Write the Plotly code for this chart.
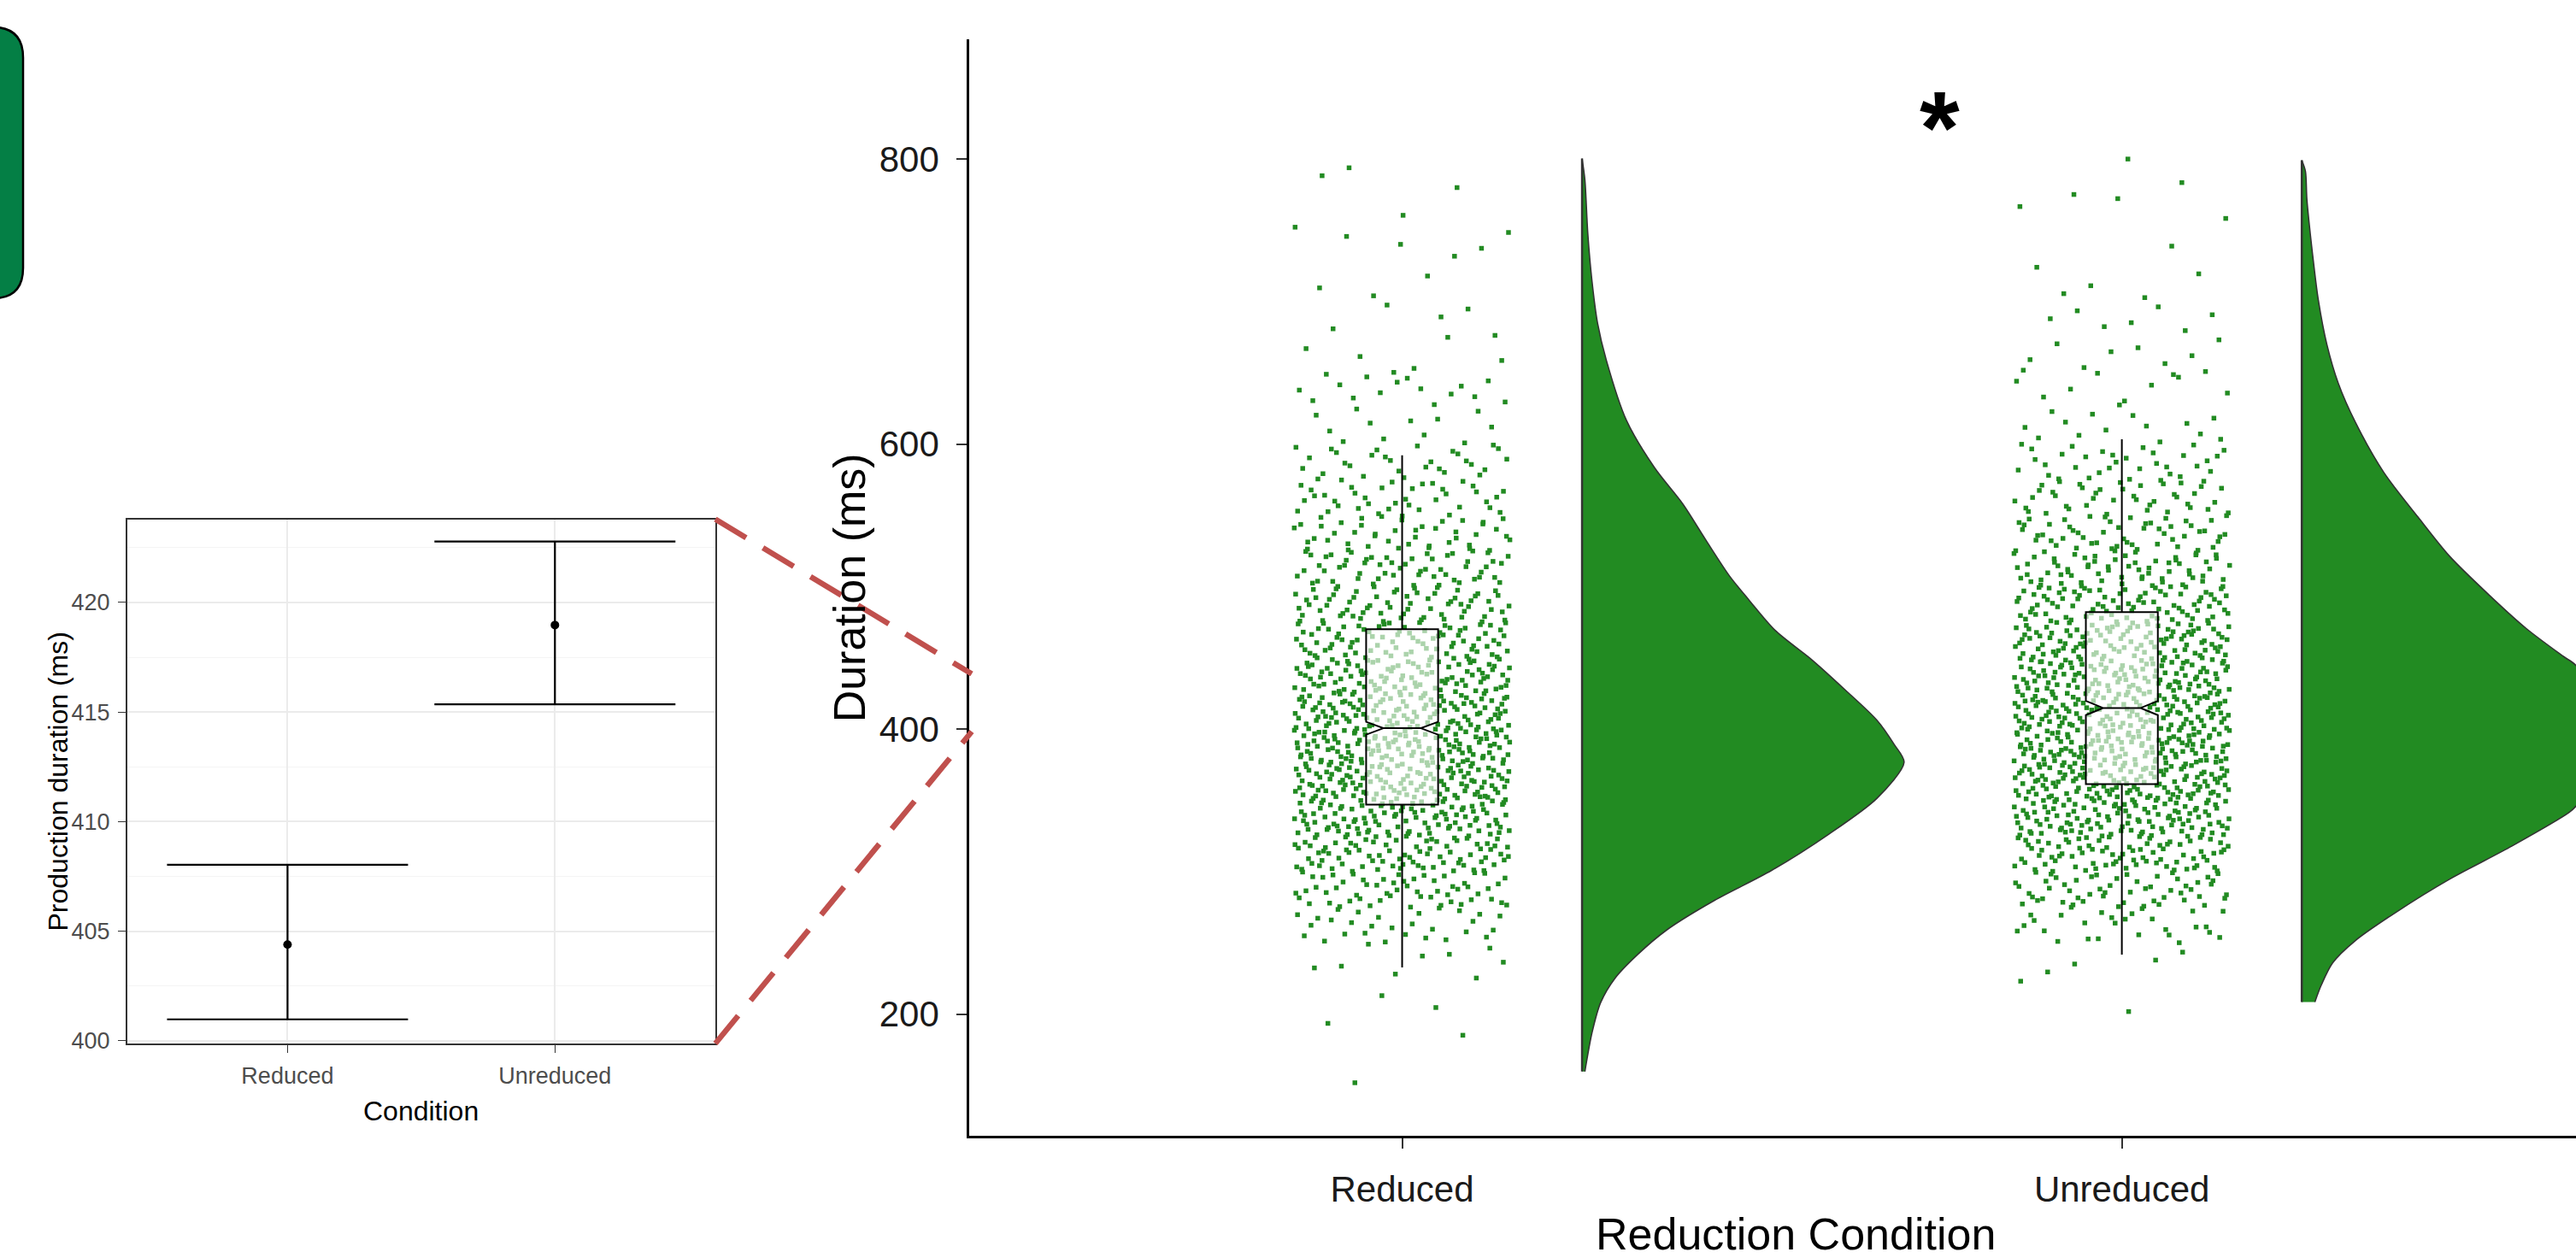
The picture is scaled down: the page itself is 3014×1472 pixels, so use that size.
import plotly.graph_objects as go

W, H = 3014, 1472
FONT = "Liberation Sans, Arial, sans-serif"
GREEN = "#228B22"

# ---------------- inset (means with error bars) ----------------
cond_labels = ["Reduced", "Unreduced"]
cond_pos = [1, 2]
cond_mean = [404.39, 418.97]
cond_upper = [408.03, 422.78]
cond_lower = [400.98, 415.35]

# ---------------- main: notched box statistics ----------------
box_q1 = [347.0, 361.4]
box_median = [400.6, 414.8]
box_q3 = [470.0, 482.0]
box_lowerfence = [232.8, 241.7]
box_upperfence = [592.1, 603.3]
box_notchspan = [4.5, 5.0]

# ---------------- main: raw points, read as counts per 25 ms bin ----------------
bin_width = 25
bin_lows = [150, 175, 200, 225, 250, 275, 300, 325, 350, 375, 400, 425, 450,
            475, 500, 525, 550, 575, 600, 625, 650, 675, 700, 725, 750, 775]
reduced_counts = [1, 2, 2, 9, 29, 58, 83, 105, 123, 128, 120, 103, 83,
                  68, 58, 46, 39, 30, 12, 16, 6, 5, 3, 5, 2, 3]
unreduced_counts = [0, 0, 2, 4, 28, 55, 83, 110, 128, 133, 130, 121, 106,
                    85, 68, 54, 43, 33, 14, 10, 10, 7, 5, 1, 3, 3]

# ---------------- main: half-violin profiles (value, half width in category units) ----------------
reduced_violin_y = [800.2, 785.4, 747.5, 713.8, 684.3, 659.0, 616.9, 583.2, 557.9, 532.6,
                    507.3, 490.5, 469.4, 448.3, 427.2, 406.2, 389.3, 376.7, 351.4, 326.1,
                    300.8, 279.8, 258.7, 241.8, 225.0, 208.1, 187.1, 159.7]
reduced_violin_w = [0.0, 0.0039, 0.0080, 0.0139, 0.0217, 0.0336, 0.0614, 0.1009, 0.1400, 0.1720,
                    0.2050, 0.2320, 0.2680, 0.3200, 0.3662, 0.4097, 0.4335, 0.4474, 0.4097, 0.3424,
                    0.2633, 0.1841, 0.1167, 0.0772, 0.0455, 0.0258, 0.0139, 0.0039]
unreduced_violin_y = [799.0, 791.2, 771.6, 732.5, 701.2, 669.9, 642.6, 615.2, 580.0, 548.7,
                      521.4, 494.0, 470.5, 451.0, 445.1, 420.0, 395.0, 370.0, 345.4, 341.5,
                      318.0, 294.6, 271.1, 251.6, 235.9, 220.3, 208.5]
unreduced_violin_w = [0.0, 0.0051, 0.0071, 0.0151, 0.0229, 0.0348, 0.0507, 0.0745, 0.1140, 0.1615,
                      0.2051, 0.2604, 0.3120, 0.3634, 0.3800, 0.4160, 0.4280, 0.4160, 0.3800, 0.3714,
                      0.2922, 0.2051, 0.1298, 0.0745, 0.0428, 0.0270, 0.0182]

y_ticks_main = [200, 400, 600, 800]
y_ticks_inset = [400, 405, 410, 415, 420]

jitter_half = 0.15
violin_offset = 0.25


def halton(i, b):
    f, r = 1.0, 0.0
    while i > 0:
        f /= b
        r += f * (i % b)
        i //= b
    return r


def cloud(center, counts, start):
    """Spread each bin's points over the bin (quasi-uniform, deterministic layout)."""
    xs, ys = [], []
    g = start
    for lo, c in zip(bin_lows, counts):
        for _ in range(c):
            g += 1
            u = halton(g, 2)
            v = halton(g, 3)
            xs.append(center + (2 * u - 1) * jitter_half)
            ys.append(lo + v * bin_width)
    return xs, ys


fig = go.Figure()

# ---- inset ----
fig.add_trace(go.Scatter(
    x=cond_pos, y=cond_mean, mode="markers",
    marker=dict(color="black", size=10),
    error_y=dict(type="data", symmetric=False,
                 array=[u - m for u, m in zip(cond_upper, cond_mean)],
                 arrayminus=[m - l for m, l in zip(cond_mean, cond_lower)],
                 color="black", thickness=2.2, width=141),
    xaxis="x", yaxis="y", hoverinfo="skip"))

# ---- main: points ----
for pos, counts, start in [(1, reduced_counts, 17), (2, unreduced_counts, 4111)]:
    xs, ys = cloud(pos, counts, start)
    fig.add_trace(go.Scatter(
        x=xs, y=ys, mode="markers",
        marker=dict(color=GREEN, size=5.5, symbol="square", line=dict(width=0)),
        xaxis="x2", yaxis="y2", hoverinfo="skip"))

# ---- main: half violins (straight baseline + smoothed density edge filled to it) ----
for pos, vy, vw in [(1, reduced_violin_y, reduced_violin_w), (2, unreduced_violin_y, unreduced_violin_w)]:
    base = pos + violin_offset
    fig.add_trace(go.Scatter(
        x=[base, base], y=[vy[0], vy[-1]], mode="lines",
        line=dict(color="#333333", width=2.5),
        xaxis="x2", yaxis="y2", hoverinfo="skip"))
    fig.add_trace(go.Scatter(
        x=[base + w for w in vw], y=vy, mode="lines", fill="tonextx", fillcolor=GREEN,
        line=dict(color="#333333", width=1.6, shape="spline", smoothing=0.8),
        xaxis="x2", yaxis="y2", hoverinfo="skip"))

# ---- main: notched boxes (on overlaid axes so they sit above the points) ----
fig.add_trace(go.Box(
    x=cond_pos, q1=box_q1, median=box_median, q3=box_q3,
    lowerfence=box_lowerfence, upperfence=box_upperfence,
    notchspan=box_notchspan, notched=True, notchwidth=0.24,
    width=0.1, whiskerwidth=0, boxpoints=False,
    fillcolor="rgba(255,255,255,0.62)", line=dict(color="black", width=2),
    xaxis="x3", yaxis="y3", hoverinfo="skip"))

main_xrange = [0.3985, 2.631]
main_yrange = [114.6, 883.9]

axis_font_main = dict(family=FONT, size=42, color="#1a1a1a")
axis_font_inset = dict(family=FONT, size=27, color="#4D4D4D")

fig.update_layout(
    width=W, height=H, margin=dict(l=0, r=0, t=0, b=0),
    paper_bgcolor="white", plot_bgcolor="white", showlegend=False,
    font=dict(family=FONT),
    xaxis=dict(domain=[148.7 / W, 837 / W], range=[0.4, 2.6], anchor="y",
               tickvals=cond_pos, ticktext=cond_labels, tickfont=axis_font_inset,
               showgrid=True, gridcolor="#EBEBEB", gridwidth=1.5, zeroline=False,
               showline=True, mirror=True, linecolor="#333333", linewidth=1.5,
               ticks="outside", ticklen=9, tickwidth=1.3, tickcolor="#333333",
               ticklabelstandoff=4),
    yaxis=dict(domain=[1 - 1231 / H, 1 - 612.5 / H], range=[399.88, 423.8], anchor="x",
               tickvals=y_ticks_inset, tickfont=axis_font_inset,
               showgrid=True, gridcolor="#EBEBEB", gridwidth=1.5, zeroline=False,
               minor=dict(tick0=400, dtick=2.5, showgrid=True, gridcolor="#F4F4F4", gridwidth=1),
               showline=True, mirror=True, linecolor="#333333", linewidth=1.5,
               ticks="outside", ticklen=9, tickwidth=1.3, tickcolor="#333333",
               ticklabelstandoff=4),
    xaxis2=dict(domain=[1134 / W, 1.0], range=main_xrange, anchor="y2",
                tickvals=cond_pos, ticktext=cond_labels, tickfont=axis_font_main,
                showgrid=False, zeroline=False, showline=True, linecolor="black", linewidth=2.5,
                ticks="outside", ticklen=12, tickwidth=2, tickcolor="#333333",
                ticklabelstandoff=12),
    yaxis2=dict(domain=[1 - 1340 / H, 1 - 46.4 / H], range=main_yrange, anchor="x2",
                tickvals=y_ticks_main, tickfont=axis_font_main,
                showgrid=False, zeroline=False, showline=True, linecolor="black", linewidth=2.5,
                ticks="outside", ticklen=12, tickwidth=2, tickcolor="#333333",
                ticklabelstandoff=12),
    xaxis3=dict(overlaying="x2", range=main_xrange, anchor="y3", visible=False),
    yaxis3=dict(overlaying="y2", range=main_yrange, anchor="x3", visible=False),
)


def px(x):
    return x / W


def py(y):
    return 1 - y / H


# decorative: green rounded tab at top-left (mostly off the page)
r, xl, xr, yt, yb = 36, -40, 27, 32, 352
path = (f"M {px(xl)},{py(yt)} L {px(xr - r)},{py(yt)} Q {px(xr)},{py(yt)} {px(xr)},{py(yt + r)} "
        f"L {px(xr)},{py(yb - r)} Q {px(xr)},{py(yb)} {px(xr - r)},{py(yb)} L {px(xl)},{py(yb)} Z")
shapes = [
    dict(type="path", xref="paper", yref="paper", path=path,
         fillcolor="#047F45", line=dict(color="black", width=2.5), layer="above"),
    dict(type="line", xref="paper", yref="paper", x0=px(837), y0=py(612.5), x1=px(1137), y1=py(795),
         line=dict(color="#C0504D", width=6.5, dash="42px,23px"), layer="above"),
    dict(type="line", xref="paper", yref="paper", x0=px(837), y0=py(1231), x1=px(1137), y1=py(863),
         line=dict(color="#C0504D", width=6.5, dash="42px,23px"), layer="above"),
]

annotations = [
    dict(text="Duration (ms)", x=px(994), y=py(693), xref="paper", yref="paper", showarrow=False,
         textangle=-90, xanchor="center", yanchor="middle", font=dict(family=FONT, size=52, color="black")),
    dict(text="Reduction Condition", x=px(2101), y=py(1456), xref="paper", yref="paper", showarrow=False,
         xanchor="center", yanchor="middle", font=dict(family=FONT, size=52, color="black")),
    dict(text="<b>*</b>", x=px(2269), y=py(150), xref="paper", yref="paper", showarrow=False,
         xanchor="center", yanchor="middle", font=dict(family=FONT, size=120, color="black")),
    dict(text="Production duration (ms)", x=px(68), y=py(922), xref="paper", yref="paper", showarrow=False,
         textangle=-90, xanchor="center", yanchor="middle", font=dict(family=FONT, size=32, color="black")),
    dict(text="Condition", x=px(492), y=py(1311), xref="paper", yref="paper", showarrow=False,
         xanchor="center", yanchor="middle", font=dict(family=FONT, size=32, color="black")),
]
fig.update_layout(shapes=shapes, annotations=annotations)

fig.write_html("out.html")
